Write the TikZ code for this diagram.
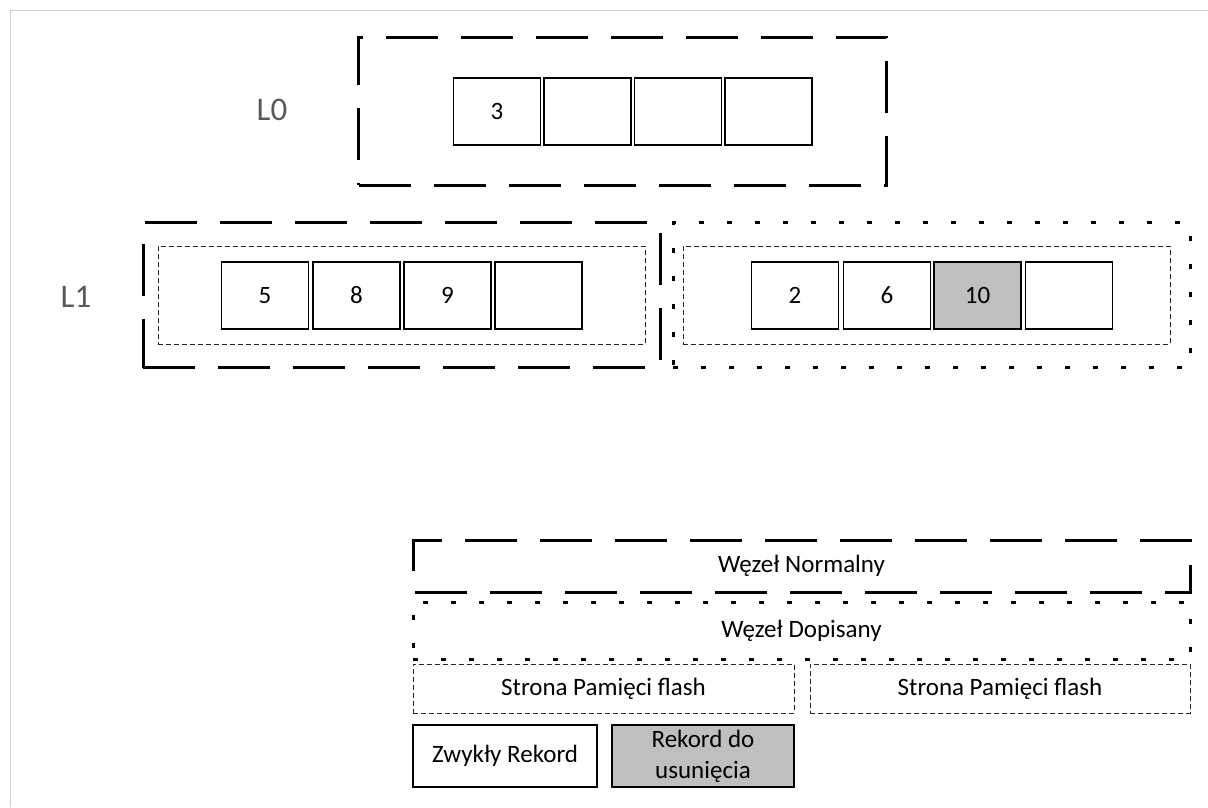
\documentclass[tikz,border=0pt]{standalone}
\usepackage{fontspec}
\setmainfont{Carlito}
\definecolor{recgrey}{RGB}{191,191,191}
\definecolor{lvlgrey}{RGB}{89,89,89}
\definecolor{framegrey}{RGB}{208,208,208}
\tikzset{
  txt/.style={font=\fontsize{25}{31}\selectfont, text=black},
  rec/.style={txt, draw=black, line width=1.3pt, fill=white, minimum width=87pt, minimum height=67pt, inner sep=0pt},
  recdel/.style={rec, fill=recgrey},
  normalline/.style={draw=black, line width=3pt, dash pattern=on 52pt off 23pt},
  appendline/.style={draw=black, line width=3pt, dash pattern=on 5pt off 23pt},
  normalnode/.style={txt, normalline, inner sep=0pt},
  appendnode/.style={txt, appendline, inner sep=0pt},
  flashpage/.style={txt, draw=black!85, line width=0.9pt, dash pattern=on 5pt off 3pt, inner sep=0pt},
  lvl/.style={font=\fontsize{33}{40}\selectfont, text=lvlgrey},
}
\begin{document}
\begin{tikzpicture}[x=1pt, y=-1pt]
\useasboundingbox (0,0) rectangle (1208,807);
% page frame
\draw[framegrey, line width=1pt] (10,807) -- (10,10) -- (1208,10);

% level labels
\node[lvl] (lzero) at (272,110) {L0};
\node[lvl] (lone) at (76,297) {L1};

% level 0: one normal node
\node[normalnode, minimum width=528pt, minimum height=148pt] (root) at (622.5,111) {};
\node[rec] (r3) at (497,111.5) {3};
\node[rec] (r0b) at (587.5,111.5) {};
\node[rec] (r0c) at (678,111.5) {};
\node[rec] (r0d) at (768.5,111.5) {};

% level 1: normal node
\node[normalnode, minimum width=517pt, minimum height=145pt] (nleft) at (401.5,295) {};
\node[flashpage, minimum width=487pt, minimum height=98pt] (pleft) at (401.5,295) {};
\node[rec] (r5) at (265,295.5) {5};
\node[rec] (r8) at (356.5,295.5) {8};
\node[rec] (r9) at (447.5,295.5) {9};
\node[rec] (r1d) at (538.5,295.5) {};

% level 1: appended node
\node[appendnode, minimum width=517pt, minimum height=145pt] (nright) at (931.5,295) {};
\node[flashpage, minimum width=487pt, minimum height=98pt] (pright) at (926.5,295) {};
\node[rec] (r2) at (795,295.5) {2};
\node[rec] (r6) at (887,295.5) {6};
\node[recdel] (r10) at (977.5,295.5) {10};
\node[rec] (r1h) at (1069,295.5) {};

% legend: normal node outline, dashes start on the left side
\draw[normalline] (413,563) -- (413,540) -- (1190,540) -- (1190,592) -- (413,592) -- cycle;
\node[txt] (lgnormal) at (801.5,566) {Węzeł Normalny};
% legend: appended node
\node[appendnode, minimum width=777pt, minimum height=57pt] (lgappend) at (801.5,630.5) {Węzeł Dopisany};
% legend: flash pages
\node[flashpage, minimum width=381pt, minimum height=49pt] (lgpagea) at (603.5,688.5) {Strona Pamięci flash};
\node[flashpage, minimum width=380pt, minimum height=49pt] (lgpageb) at (1000,688.5) {Strona Pamięci flash};
% legend: records
\node[rec, minimum width=184pt, minimum height=62pt] (lgrec) at (505,756) {Zwykły Rekord};
\node[recdel, minimum width=182pt, minimum height=62pt, align=center] (lgdel) at (703,756) {Rekord do\\usunięcia};
\end{tikzpicture}
\end{document}
